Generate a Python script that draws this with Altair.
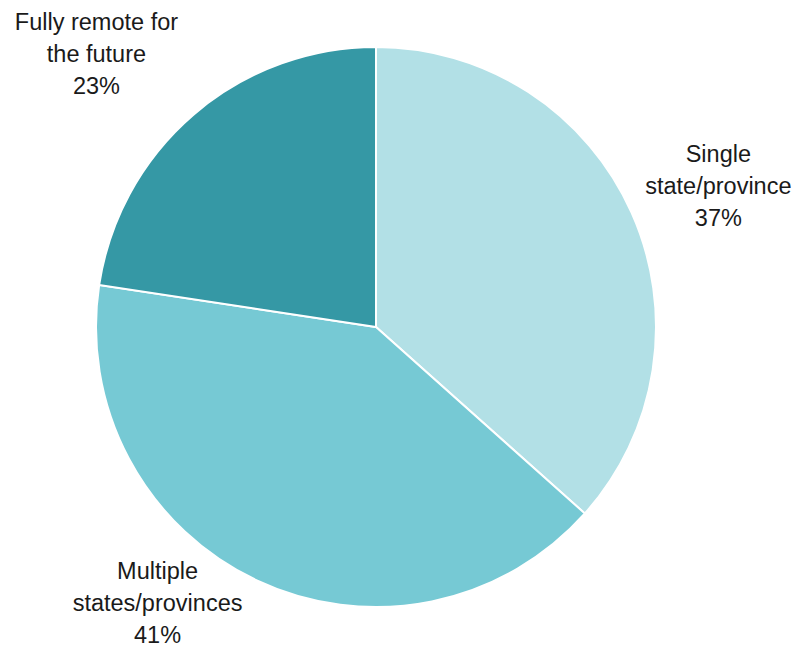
import altair as alt
import pandas as pd

categories = ["Single state/province", "Multiple states/provinces", "Fully remote for the future"]
labels = ["Single\nstate/province\n37%", "Multiple\nstates/provinces\n41%", "Fully remote for\nthe future\n23%"]
shares = [36.6, 40.8, 22.6]
colors = ["#b2e0e6", "#76c9d4", "#3598a5"]

df = pd.DataFrame({"category": categories, "label": labels, "share": shares, "idx": [0, 1, 2]})

CX, CY, R = 368, 319, 280
theta_scale = alt.Scale(domain=[0, 100], range=[0, 6.283185307179586])

base = alt.Chart(df)

pie = base.mark_arc(stroke="white", strokeWidth=2, radius=R).encode(
    theta=alt.Theta("share:Q", stack=True, scale=theta_scale),
    color=alt.Color("category:N", scale=alt.Scale(domain=categories, range=colors), legend=None),
    order=alt.Order("idx:Q"),
    x=alt.value(CX),
    y=alt.value(CY),
)

label_style = [
    (categories[0], 374, 1, -19),
    (categories[1], 351, -69, -73),
    (categories[2], 389, -26, -9),
]

layers = [pie]
for cat, rad, dx, dy in label_style:
    t = (
        base.transform_window(cum="sum(share)", sort=[alt.SortField("idx")])
        .transform_calculate(mid="datum.cum - datum.share / 2")
        .transform_filter(alt.datum.category == cat)
        .mark_text(
            radius=rad, dx=dx, dy=dy, align="center", baseline="middle",
            font="Liberation Sans", fontSize=23.5, lineHeight=32, lineBreak="\n", color="#1a1a1a",
        )
        .encode(
            theta=alt.Theta("mid:Q", stack=None, scale=theta_scale),
            text="label:N",
            x=alt.value(CX),
            y=alt.value(CY),
        )
    )
    layers.append(t)

chart = alt.layer(*layers).properties(
    width=784, height=642, padding=0, background="white",
    autosize=alt.AutoSizeParams(type="none")
).configure_view(strokeWidth=0, stroke=None)

chart.save("out.html", embed_options={"renderer": "svg", "actions": False})
